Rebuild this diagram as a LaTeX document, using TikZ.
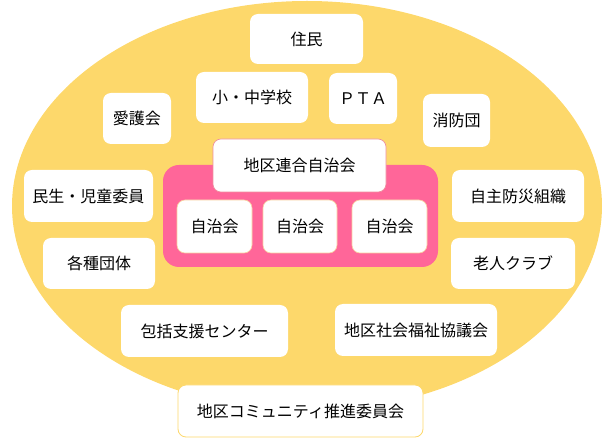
\documentclass[tikz,border=0pt]{standalone}
\usepackage{fontspec}
\usepackage{tikz}
\usepackage{xcolor}
\newfontfamily\jpfont{Noto Sans CJK JP}

\definecolor{bgyellow}{HTML}{FDD86B}
\definecolor{grppink}{HTML}{FF6699}
\definecolor{rimpink}{HTML}{EE8E9E}
\definecolor{rimpeach}{HTML}{F9CFA0}

\begin{document}
\begin{tikzpicture}[x=0.75pt,y=-0.75pt,
	box/.style 2 args={rectangle,rounded corners=6pt,fill=white,draw=none,
		minimum width=#1*0.75pt,minimum height=#2*0.75pt,inner sep=0pt,
		font=\jpfont\fontsize{12pt}{14pt}\selectfont}]
	
	\useasboundingbox (0,0) rectangle (608,445);
	
	% --- background ellipse ---
	\fill[bgyellow] (307,206) circle [x radius=221.25pt,y radius=153.75pt];
	
	% --- upper members ---
	\node[box={113}{50}] (jumin) at (306.5,39) {住民};
	\node[box={112}{51}] (school) at (252,97.5) {小・中学校};
	\node[box={68}{51}] (pta) at (363,98.5) {ＰＴＡ};
	\node[box={68}{51}] (aigo) at (137,118.5) {愛護会};
	\node[box={67}{53}] (shobo) at (456.5,120.5) {消防団};
	
	% --- federation of the neighbourhood associations ---
	\begin{scope}
		\fill[grppink,rounded corners=12pt] (163,165) rectangle (438,267);
		\node[box={173}{53},draw=rimpink,line width=0.5pt] (rengo) at (299.5,165.5) {地区連合自治会};
		\node[box={75}{53},draw=rimpeach,line width=0.5pt] (jichiA) at (214.5,226.5) {自治会};
		\node[box={74}{53},draw=rimpeach,line width=0.5pt] (jichiB) at (300,226.5) {自治会};
		\node[box={75}{53},draw=rimpeach,line width=0.5pt] (jichiC) at (389.5,226.5) {自治会};
	\end{scope}
	
	% --- side members ---
	\node[box={129}{52}] (minsei) at (88.5,196) {民生・児童委員};
	\node[box={112}{51}] (kakushu) at (99,263.5) {各種団体};
	\node[box={132}{52}] (jishu) at (518,196) {自主防災組織};
	\node[box={124}{51}] (rojin) at (513,263.5) {老人クラブ};
	
	% --- lower members ---
	\node[box={167}{52}] (hokatsu) at (204.5,331) {包括支援センター};
	\node[box={162}{52}] (shakyo) at (416,330) {地区社会福祉協議会};
	\node[box={245}{52},draw=bgyellow,line width=0.6pt] (suishin) at (300.5,411) {地区コミュニティ推進委員会};
	
\end{tikzpicture}
\end{document}
